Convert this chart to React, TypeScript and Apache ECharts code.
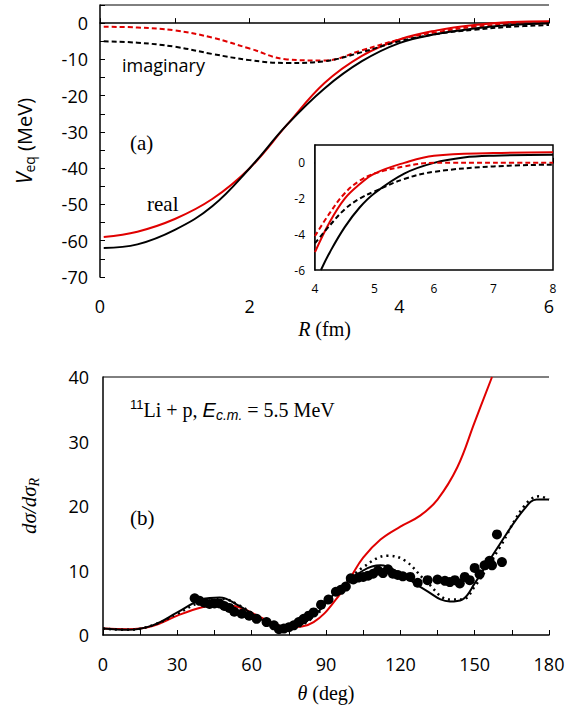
import React, { useEffect, useRef } from "react";
import * as echarts from "echarts";

// panel (a): equivalent potentials, R in fm
const realBlack = [[0.05, -62], [0.5, -61], [1, -57], [1.5, -50.5], [2, -40], [2.5, -28], [3, -18], [3.5, -10.5], [4, -5.5], [4.5, -3], [5, -1.5], [5.5, -0.5], [6, 0]];
const realRed = [[0.05, -59], [0.5, -57.5], [1, -54], [1.5, -48.5], [2, -40], [2.5, -28], [3, -16.5], [3.5, -9], [4, -4.5], [4.5, -2], [5, -0.5], [5.5, 0.3], [6, 0.5]];
const imagBlack = [[0.05, -5], [0.5, -5.4], [1, -6.5], [1.5, -8.5], [2, -10.2], [2.5, -11], [3, -10.5], [3.5, -8], [4, -5], [4.5, -3], [5, -1.8], [5.5, -1], [6, -0.5]];
const imagRed = [[0.05, -1], [0.5, -1.2], [1, -2], [1.5, -4], [2, -7], [2.5, -10], [3, -10.3], [3.5, -7.5], [4, -4.5], [4.5, -2.5], [5, -1], [5.5, -0.3], [6, 0]];

// inset, R = 4..8 fm
const insRealBlack = [[4.1, -6], [4.25, -5], [4.5, -3.6], [4.75, -2.5], [5, -1.7], [5.5, -0.6], [6, 0], [6.5, 0.3], [7, 0.4], [8, 0.45]];
const insRealRed = [[4, -5], [4.25, -3.3], [4.5, -2], [4.75, -1.2], [5, -0.6], [5.5, 0], [6, 0.4], [7, 0.55], [8, 0.6]];
const insImagBlack = [[4, -4.5], [4.25, -3.5], [4.5, -2.6], [4.75, -2], [5, -1.6], [5.5, -0.9], [6, -0.5], [7, -0.2], [8, -0.1]];
const insImagRed = [[4, -4.1], [4.25, -2.8], [4.5, -1.7], [4.75, -1], [5, -0.6], [5.5, -0.2], [6, 0], [7, 0], [8, 0]];

// panel (b): d sigma / d sigma_R vs theta
const csBlack = [[0, 1], [10, 0.8], [20, 1.5], [30, 3.5], [40, 5.5], [47, 5.8], [55, 4.5], [65, 2.2], [75, 1.1], [85, 3], [95, 7], [105, 10], [112, 10.8], [120, 9.5], [130, 7], [140, 5.2], [145, 5.5], [150, 8], [160, 14], [170, 19.5], [175, 21], [180, 21]];
const csDotted = [[0, 1], [10, 0.8], [20, 1.5], [30, 3.3], [40, 5.2], [48, 5.6], [55, 4.6], [65, 2.3], [75, 1], [85, 2.8], [95, 7], [105, 10.5], [115, 12.3], [122, 11.5], [130, 8.5], [140, 5.5], [145, 5.5], [150, 7.5], [160, 13.5], [170, 20], [176, 21.5], [180, 21]];
const csRed = [[0, 1], [10, 0.9], [20, 1.4], [30, 3], [40, 4.3], [47, 4.7], [55, 4.3], [65, 2.5], [75, 1.2], [85, 2], [95, 6], [100, 9], [105, 12], [112, 14.8], [120, 16.8], [128, 18.5], [135, 21], [143, 26], [150, 33], [157, 40]];
const csData = [[37, 5.7], [39, 5.3], [41, 5.0], [43, 4.8], [45, 4.9], [47, 4.9], [49, 4.5], [51, 4.2], [53, 3.6], [56, 3.3], [59, 3.0], [62, 2.5], [66, 2.0], [69, 1.5], [71, 0.9], [73, 1.0], [75, 1.2], [77, 1.5], [79, 2.0], [81, 2.5], [83, 3.0], [85, 3.5], [88, 4.7], [91, 5.5], [94, 6.7], [96, 7.0], [98, 7.5], [100, 8.8], [101, 8.6], [103, 8.9], [105, 9.0], [107, 9.2], [109, 9.5], [111, 10.0], [113, 9.6], [115, 10.2], [117, 9.5], [119, 9.3], [121, 9.1], [124, 9.0], [127, 8.1], [131, 8.5], [135, 8.6], [138, 8.4], [140, 8.2], [142, 8.5], [144, 8.0], [146, 9.0], [148, 8.5], [150, 10.4], [152, 9.4], [154, 10.8], [156, 11.5], [157, 10.8], [159, 15.6], [161, 11.3]];

const SANS = "Open Sans";
const SERIF = "Liberation Serif";

const line = (x: number, data: number[][], color: string, type: any = "solid", width = 2) => ({
  type: "line", xAxisIndex: x, yAxisIndex: x, data, showSymbol: false, smooth: 0.4,
  lineStyle: { color, type, width }, z: color === "#e00000" ? 3 : 4,
});

const App = () => {
  const ref = useRef<HTMLDivElement>(null);

  useEffect(() => {
    if (!ref.current) return;
    const chart = echarts.init(ref.current, undefined, { renderer: "svg" });
    const axLine = { show: true, lineStyle: { color: "#000", width: 1.5 } };
    const tick = { show: true, inside: true, length: 5, lineStyle: { color: "#000" } };
    const lbl = { color: "#000", fontFamily: SANS, fontSize: 18 };

    chart.setOption({
      animation: false,
      backgroundColor: "#fff",
      grid: [
        { left: 100, right: 20, top: 5, height: 272 },
        { left: 103, right: 20, top: 377, height: 258 },
        { left: 315, right: 16, top: 145, height: 125, show: true, borderColor: "#000", borderWidth: 1.5, backgroundColor: "#fff", z: 10 },
      ],
      xAxis: [
        {
          gridIndex: 0, type: "value", min: 0, max: 6, interval: 1, axisLine: axLine, axisTick: tick, splitLine: { show: false },
          axisLabel: { ...lbl, margin: 20, formatter: (v: number) => (v % 2 === 0 ? String(v) : "") },
          name: "{i|R} (fm)", nameLocation: "middle", nameGap: 42,
          nameTextStyle: { fontFamily: SERIF, fontSize: 20, color: "#000", rich: { i: { fontFamily: SERIF, fontStyle: "italic", fontSize: 20 } } },
        },
        {
          gridIndex: 1, type: "value", min: 0, max: 180, interval: 15, axisLine: axLine, axisTick: tick, splitLine: { show: false },
          axisLabel: { ...lbl, margin: 20, formatter: (v: number) => (v % 30 === 0 ? String(v) : "") },
          name: "{i|θ} (deg)", nameLocation: "middle", nameGap: 48,
          nameTextStyle: { fontFamily: SERIF, fontSize: 20, color: "#000", rich: { i: { fontFamily: SERIF, fontStyle: "italic", fontSize: 20 } } },
        },
        {
          gridIndex: 2, type: "value", min: 4, max: 8, interval: 1, axisLine: axLine, axisTick: tick, splitLine: { show: false },
          axisLabel: { color: "#000", fontFamily: SANS, fontSize: 12, margin: 12 },
        },
      ],
      yAxis: [
        {
          gridIndex: 0, type: "value", min: -70, max: 5, interval: 5, axisLine: axLine, axisTick: tick, splitLine: { show: false },
          axisLabel: { ...lbl, margin: 12, formatter: (v: number) => (v % 10 === 0 ? String(v) : "") },
          name: "{i|V}{s|eq} (MeV)", nameLocation: "middle", nameGap: 64,
          nameTextStyle: { fontFamily: SANS, fontSize: 20, color: "#000", rich: { i: { fontFamily: SANS, fontStyle: "italic", fontSize: 21 }, s: { fontFamily: SANS, fontSize: 14, padding: [10, 0, 0, 0] } } },
        },
        {
          gridIndex: 1, type: "value", min: 0, max: 40, interval: 10, axisLine: axLine, axisTick: { show: false }, splitLine: { show: false },
          axisLabel: { ...lbl, margin: 14 },
          name: "{i|dσ/dσ}{s|R}", nameLocation: "middle", nameGap: 62,
          nameTextStyle: { fontFamily: SERIF, fontSize: 20, color: "#000", rich: { i: { fontFamily: SERIF, fontStyle: "italic", fontSize: 21 }, s: { fontFamily: SERIF, fontStyle: "italic", fontSize: 14, padding: [10, 0, 0, 0] } } },
        },
        {
          gridIndex: 2, type: "value", min: -6, max: 1, interval: 2, axisLine: axLine, axisTick: { show: false }, splitLine: { show: false },
          axisLabel: { color: "#000", fontFamily: SANS, fontSize: 12, margin: 10, formatter: (v: number) => (v === 1 ? "" : String(v)) },
        },
      ],
      series: [
        line(0, realRed, "#e00000"),
        line(0, realBlack, "#000"),
        line(0, imagRed, "#e00000", [5, 3]),
        line(0, imagBlack, "#000", [5, 3]),
        line(1, csRed, "#e00000"),
        line(1, csBlack, "#000"),
        line(1, csDotted, "#000", [2, 4], 2.5),
        { type: "scatter", xAxisIndex: 1, yAxisIndex: 1, data: csData, symbolSize: 10, itemStyle: { color: "#000", opacity: 1 }, z: 5 },
        { ...line(2, insRealRed, "#e00000"), z: 12 },
        { ...line(2, insRealBlack, "#000"), z: 12 },
        { ...line(2, insImagRed, "#e00000", [5, 3]), z: 12 },
        { ...line(2, insImagBlack, "#000", [5, 3]), z: 12 },
      ],
      graphic: [
        { type: "line", shape: { x1: 100, y1: 5, x2: 549, y2: 5 }, style: { stroke: "#000", lineWidth: 1 } },
        { type: "line", shape: { x1: 103, y1: 377, x2: 549, y2: 377 }, style: { stroke: "#000", lineWidth: 1 } },
        { type: "text", left: 122, top: 56, style: { text: "imaginary", fontFamily: SANS, fontSize: 18, fill: "#000" } },
        { type: "text", left: 130, top: 132, style: { text: "(a)", fontFamily: SERIF, fontSize: 21, fill: "#000" } },
        { type: "text", left: 147, top: 193, style: { text: "real", fontFamily: SERIF, fontSize: 21, fill: "#000" } },
        { type: "text", left: 130, top: 507, style: { text: "(b)", fontFamily: SERIF, fontSize: 21, fill: "#000" } },
        {
          type: "text", left: 130, top: 398,
          style: {
            text: "{s|11}Li + p, {i|E}{t|c.m.} = 5.5 MeV", fontFamily: SERIF, fontSize: 20, fill: "#000",
            rich: { s: { fontSize: 13, padding: [0, 0, 10, 0] }, i: { fontStyle: "italic", fontSize: 20 }, t: { fontStyle: "italic", fontSize: 14, padding: [10, 0, 0, 0] } },
          },
        },
      ],
    });
    return () => chart.dispose();
  }, []);

  return <div ref={ref} style={{ position: "absolute", left: 0, top: 0, width: 569, height: 715 }} />;
};

export default App;
